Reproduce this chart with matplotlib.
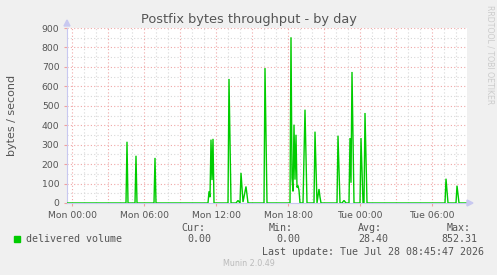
import matplotlib
matplotlib.use("Agg")
import matplotlib.pyplot as plt
import numpy as np

# time in minutes from Mon 00:00, values in bytes / second
minutes = [-25, 270, 275, 280, 315, 320, 325, 410, 415, 420,
           680, 685, 690, 695, 700, 705, 710,
           780, 785, 795, 820, 830, 840, 845, 855, 870, 880,
           960, 965, 975,
           1090, 1095, 1100, 1105, 1110, 1115, 1120, 1125, 1130, 1135, 1140,
           1155, 1165, 1175,
           1210, 1215, 1225, 1235, 1240, 1245,
           1325, 1330, 1340, 1350, 1360, 1370,
           1385, 1390, 1395, 1400, 1410,
           1440, 1445, 1455, 1460, 1465, 1475,
           1865, 1870, 1880, 1920, 1925, 1935, 1975]
values = [0, 0, 315, 0, 0, 243, 0, 0, 232, 0,
          0, 60, 30, 326, 118, 330, 0,
          0, 638, 0, 0, 13, 0, 155, 5, 85, 0,
          0, 694, 0,
          0, 852.31, 130, 60, 403, 120, 351, 80, 90, 65, 0,
          0, 480, 0,
          0, 367, 0, 72, 30, 0,
          0, 346, 0, 0, 13, 0,
          0, 334, 104, 674, 0,
          0, 334, 0, 0, 463, 0,
          0, 125, 0, 0, 89, 0, 0]

xtick_labels = ["Mon 00:00", "Mon 06:00", "Mon 12:00", "Mon 18:00", "Tue 00:00", "Tue 06:00"]
yticks = [0, 100, 200, 300, 400, 500, 600, 700, 800, 900]

title = "Postfix bytes throughput - by day"
series_name = "delivered volume"
stats_labels = ["Cur:", "Min:", "Avg:", "Max:"]
stats_values = ["0.00", "0.00", "28.40", "852.31"]
last_update = "Last update: Tue Jul 28 08:45:47 2026"

W, H = 497, 275
fig = plt.figure(figsize=(W / 100, H / 100), dpi=100, facecolor="#F0F0F0")

def fx(px):
    return px / W

def fy(py):
    return 1 - py / H

ax = fig.add_axes([fx(67), fy(203), fx(400), 175 / H])
ax.set_facecolor("white")

x_hours = np.array(minutes) / 60.0
xmin, xmax = -25 / 60.0, (-25 + 2000) / 60.0
ax.set_xlim(xmin, xmax)
ax.set_ylim(0, 900)

# grid
minor_col = "#D8D8D8"
major_col = "#F0A8A8"
for h in np.arange(0, 33, 1):
    if h % 3 != 0:
        ax.axvline(h, color=minor_col, lw=0.8, ls=(0, (1, 2)), zorder=1)
for v in range(50, 900, 100):
    ax.axhline(v, color=minor_col, lw=0.8, ls=(0, (1, 2)), zorder=1)
for h in np.arange(0, 33, 3):
    ax.axvline(h, color=major_col, lw=0.8, ls=(0, (1, 2)), zorder=1.5)
for v in range(100, 901, 100):
    ax.axhline(v, color=major_col, lw=0.8, ls=(0, (1, 2)), zorder=1.5)

ax.plot(x_hours, values, color="#00CC00", lw=1.0, zorder=3, solid_joinstyle="miter")

for s in ["top", "right"]:
    ax.spines[s].set_visible(False)
ax.spines["left"].set_color("#C8C8F0")
ax.spines["bottom"].set_color("#C8C8F0")
ax.spines["left"].set_linewidth(0.8)
ax.spines["bottom"].set_linewidth(0.8)

ax.set_xticks([0, 6, 12, 18, 24, 30])
ax.set_xticklabels(xtick_labels)
ax.set_yticks(yticks)
ax.set_yticklabels([str(v) for v in yticks])
ax.tick_params(axis="both", colors="#F0A0A0", labelcolor="#555555", labelsize=6.7,
               length=2.5, width=0.8, pad=3)

# axis arrows
fig.patches.append(plt.Polygon([[fx(64), fy(26)], [fx(70), fy(26)], [fx(67), fy(20)]],
                               closed=True, color="#C8C8F0", transform=fig.transFigure))
fig.patches.append(plt.Polygon([[fx(467), fy(200)], [fx(467), fy(206)], [fx(473), fy(203)]],
                               closed=True, color="#C8C8F0", transform=fig.transFigure))

fig.text(fx(249), fy(19), title, ha="center", va="center", fontsize=9.3, color="#555555")
fig.text(fx(12), fy(115), "bytes / second", ha="center", va="center", rotation=90,
         fontsize=8, color="#555555")
fig.text(fx(490), fy(5), "RRDTOOL / TOBI OETIKER", ha="center", va="top", rotation=270,
         fontsize=5.6, color="#CCCCCC")

mono = "DejaVu Sans Mono"
fig.patches.append(plt.Rectangle((fx(14), fy(242)), 6 / W, 6 / H, color="#00CC00",
                                 transform=fig.transFigure))
fig.text(fx(26), fy(239.5), series_name, ha="left", va="center", family=mono,
         fontsize=7.2, color="#555555")
head_x = [181, 269, 358, 447]
val_x = [187, 276, 358, 441]
for lbl, v, hx, vx in zip(stats_labels, stats_values, head_x, val_x):
    fig.text(fx(hx), fy(228), lbl, ha="left", va="center", family=mono, fontsize=7.2, color="#555555")
    fig.text(fx(vx), fy(239.5), v, ha="left", va="center", family=mono, fontsize=7.2, color="#555555")
fig.text(fx(262), fy(251.7), last_update, ha="left", va="center", family=mono,
         fontsize=7.2, color="#555555")
fig.text(fx(249), fy(263.5), "Munin 2.0.49", ha="center", va="center", fontsize=5.8,
         color="#BBBBBB")

fig.savefig("out.png", dpi=100, facecolor=fig.get_facecolor())
